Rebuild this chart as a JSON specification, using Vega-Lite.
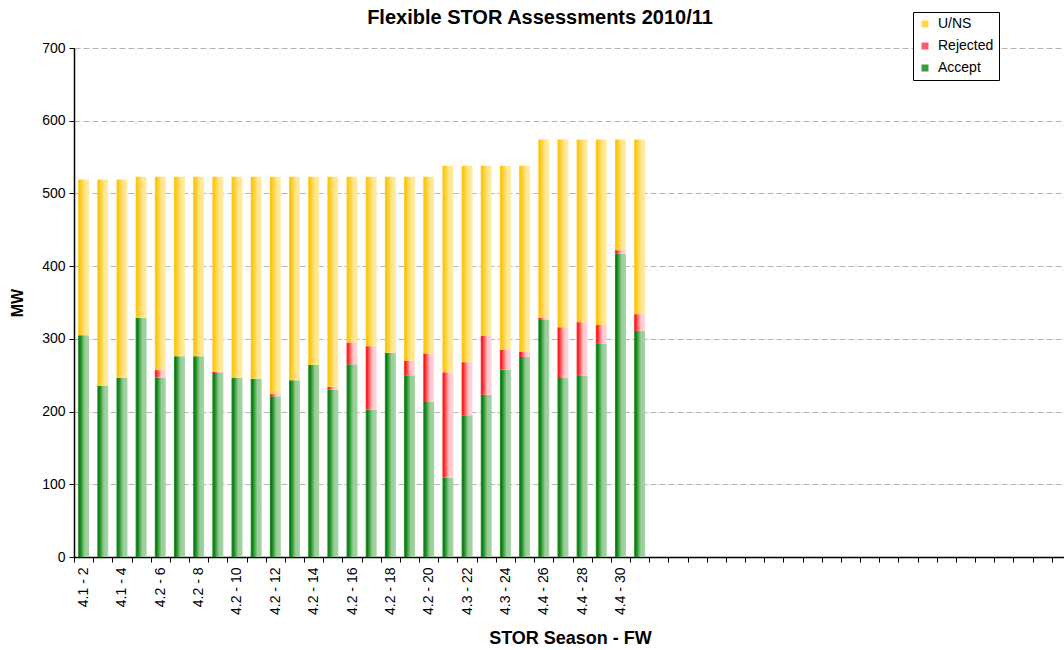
{
  "$schema": "https://vega.github.io/schema/vega-lite/v6.json",
  "width": 990,
  "height": 509,
  "autosize": {"type": "none"},
  "padding": {"left": 74, "top": 48, "right": 0, "bottom": 93},
  "background": "white",
  "title": {"text": "Flexible STOR Assessments 2010/11", "font": "Liberation Sans", "fontSize": 20, "fontWeight": "bold", "color": "black", "anchor": "middle", "dx": -29, "baseline": "bottom", "offset": 22, "dy": 58},
  "config": {"view": {"stroke": null}, "font": "Liberation Sans"},
  "data": {"values": [
    {"fw": 2, "label": "4.1 - 2", "series": "Accept", "mw": 305}, {"fw": 2, "label": "4.1 - 2", "series": "Rejected", "mw": 0}, {"fw": 2, "label": "4.1 - 2", "series": "U/NS", "mw": 214},
    {"fw": 3, "label": "4.1 - 3", "series": "Accept", "mw": 235}, {"fw": 3, "label": "4.1 - 3", "series": "Rejected", "mw": 0}, {"fw": 3, "label": "4.1 - 3", "series": "U/NS", "mw": 284},
    {"fw": 4, "label": "4.1 - 4", "series": "Accept", "mw": 246}, {"fw": 4, "label": "4.1 - 4", "series": "Rejected", "mw": 0}, {"fw": 4, "label": "4.1 - 4", "series": "U/NS", "mw": 273},
    {"fw": 5, "label": "4.2 - 5", "series": "Accept", "mw": 329}, {"fw": 5, "label": "4.2 - 5", "series": "Rejected", "mw": 0}, {"fw": 5, "label": "4.2 - 5", "series": "U/NS", "mw": 194},
    {"fw": 6, "label": "4.2 - 6", "series": "Accept", "mw": 247}, {"fw": 6, "label": "4.2 - 6", "series": "Rejected", "mw": 10}, {"fw": 6, "label": "4.2 - 6", "series": "U/NS", "mw": 266},
    {"fw": 7, "label": "4.2 - 7", "series": "Accept", "mw": 276}, {"fw": 7, "label": "4.2 - 7", "series": "Rejected", "mw": 0}, {"fw": 7, "label": "4.2 - 7", "series": "U/NS", "mw": 247},
    {"fw": 8, "label": "4.2 - 8", "series": "Accept", "mw": 276}, {"fw": 8, "label": "4.2 - 8", "series": "Rejected", "mw": 0}, {"fw": 8, "label": "4.2 - 8", "series": "U/NS", "mw": 247},
    {"fw": 9, "label": "4.2 - 9", "series": "Accept", "mw": 253}, {"fw": 9, "label": "4.2 - 9", "series": "Rejected", "mw": 2}, {"fw": 9, "label": "4.2 - 9", "series": "U/NS", "mw": 268},
    {"fw": 10, "label": "4.2 - 10", "series": "Accept", "mw": 246}, {"fw": 10, "label": "4.2 - 10", "series": "Rejected", "mw": 0}, {"fw": 10, "label": "4.2 - 10", "series": "U/NS", "mw": 277},
    {"fw": 11, "label": "4.2 - 11", "series": "Accept", "mw": 245}, {"fw": 11, "label": "4.2 - 11", "series": "Rejected", "mw": 0}, {"fw": 11, "label": "4.2 - 11", "series": "U/NS", "mw": 278},
    {"fw": 12, "label": "4.2 - 12", "series": "Accept", "mw": 221}, {"fw": 12, "label": "4.2 - 12", "series": "Rejected", "mw": 3}, {"fw": 12, "label": "4.2 - 12", "series": "U/NS", "mw": 299},
    {"fw": 13, "label": "4.2 - 13", "series": "Accept", "mw": 243}, {"fw": 13, "label": "4.2 - 13", "series": "Rejected", "mw": 0}, {"fw": 13, "label": "4.2 - 13", "series": "U/NS", "mw": 280},
    {"fw": 14, "label": "4.2 - 14", "series": "Accept", "mw": 264}, {"fw": 14, "label": "4.2 - 14", "series": "Rejected", "mw": 0}, {"fw": 14, "label": "4.2 - 14", "series": "U/NS", "mw": 259},
    {"fw": 15, "label": "4.2 - 15", "series": "Accept", "mw": 230}, {"fw": 15, "label": "4.2 - 15", "series": "Rejected", "mw": 4}, {"fw": 15, "label": "4.2 - 15", "series": "U/NS", "mw": 289},
    {"fw": 16, "label": "4.2 - 16", "series": "Accept", "mw": 265}, {"fw": 16, "label": "4.2 - 16", "series": "Rejected", "mw": 30}, {"fw": 16, "label": "4.2 - 16", "series": "U/NS", "mw": 228},
    {"fw": 17, "label": "4.2 - 17", "series": "Accept", "mw": 203}, {"fw": 17, "label": "4.2 - 17", "series": "Rejected", "mw": 87}, {"fw": 17, "label": "4.2 - 17", "series": "U/NS", "mw": 233},
    {"fw": 18, "label": "4.2 - 18", "series": "Accept", "mw": 281}, {"fw": 18, "label": "4.2 - 18", "series": "Rejected", "mw": 0}, {"fw": 18, "label": "4.2 - 18", "series": "U/NS", "mw": 242},
    {"fw": 19, "label": "4.2 - 19", "series": "Accept", "mw": 250}, {"fw": 19, "label": "4.2 - 19", "series": "Rejected", "mw": 20}, {"fw": 19, "label": "4.2 - 19", "series": "U/NS", "mw": 253},
    {"fw": 20, "label": "4.2 - 20", "series": "Accept", "mw": 213}, {"fw": 20, "label": "4.2 - 20", "series": "Rejected", "mw": 67}, {"fw": 20, "label": "4.2 - 20", "series": "U/NS", "mw": 243},
    {"fw": 21, "label": "4.3 - 21", "series": "Accept", "mw": 109}, {"fw": 21, "label": "4.3 - 21", "series": "Rejected", "mw": 145}, {"fw": 21, "label": "4.3 - 21", "series": "U/NS", "mw": 284},
    {"fw": 22, "label": "4.3 - 22", "series": "Accept", "mw": 195}, {"fw": 22, "label": "4.3 - 22", "series": "Rejected", "mw": 73}, {"fw": 22, "label": "4.3 - 22", "series": "U/NS", "mw": 270},
    {"fw": 23, "label": "4.3 - 23", "series": "Accept", "mw": 223}, {"fw": 23, "label": "4.3 - 23", "series": "Rejected", "mw": 81}, {"fw": 23, "label": "4.3 - 23", "series": "U/NS", "mw": 234},
    {"fw": 24, "label": "4.3 - 24", "series": "Accept", "mw": 258}, {"fw": 24, "label": "4.3 - 24", "series": "Rejected", "mw": 27}, {"fw": 24, "label": "4.3 - 24", "series": "U/NS", "mw": 253},
    {"fw": 25, "label": "4.3 - 25", "series": "Accept", "mw": 275}, {"fw": 25, "label": "4.3 - 25", "series": "Rejected", "mw": 7}, {"fw": 25, "label": "4.3 - 25", "series": "U/NS", "mw": 256},
    {"fw": 26, "label": "4.4 - 26", "series": "Accept", "mw": 326}, {"fw": 26, "label": "4.4 - 26", "series": "Rejected", "mw": 3}, {"fw": 26, "label": "4.4 - 26", "series": "U/NS", "mw": 245},
    {"fw": 27, "label": "4.4 - 27", "series": "Accept", "mw": 246}, {"fw": 27, "label": "4.4 - 27", "series": "Rejected", "mw": 70}, {"fw": 27, "label": "4.4 - 27", "series": "U/NS", "mw": 258},
    {"fw": 28, "label": "4.4 - 28", "series": "Accept", "mw": 249}, {"fw": 28, "label": "4.4 - 28", "series": "Rejected", "mw": 74}, {"fw": 28, "label": "4.4 - 28", "series": "U/NS", "mw": 251},
    {"fw": 29, "label": "4.4 - 29", "series": "Accept", "mw": 293}, {"fw": 29, "label": "4.4 - 29", "series": "Rejected", "mw": 26}, {"fw": 29, "label": "4.4 - 29", "series": "U/NS", "mw": 255},
    {"fw": 30, "label": "4.4 - 30", "series": "Accept", "mw": 417}, {"fw": 30, "label": "4.4 - 30", "series": "Rejected", "mw": 5}, {"fw": 30, "label": "4.4 - 30", "series": "U/NS", "mw": 152},
    {"fw": 31, "label": "4.4 - 31", "series": "Accept", "mw": 311}, {"fw": 31, "label": "4.4 - 31", "series": "Rejected", "mw": 23}, {"fw": 31, "label": "4.4 - 31", "series": "U/NS", "mw": 240}
  ]},
  "transform": [
    {"stack": "mw", "groupby": ["label"], "sort": [{"field": "series", "order": "ascending"}], "as": ["y0", "y1"]}
  ],
  "encoding": {
    "x": {
      "field": "label", "type": "nominal",
      "scale": {
        "domain": ["4.1 - 2","4.1 - 3","4.1 - 4","4.2 - 5","4.2 - 6","4.2 - 7","4.2 - 8","4.2 - 9","4.2 - 10","4.2 - 11","4.2 - 12","4.2 - 13","4.2 - 14","4.2 - 15","4.2 - 16","4.2 - 17","4.2 - 18","4.2 - 19","4.2 - 20","4.3 - 21","4.3 - 22","4.3 - 23","4.3 - 24","4.3 - 25","4.4 - 26","4.4 - 27","4.4 - 28","4.4 - 29","4.4 - 30","4.4 - 31","w32","w33","w34","w35","w36","w37","w38","w39","w40","w41","w42","w43","w44","w45","w46","w47","w48","w49","w50","w51","w52","w53"],
        "range": [0, 997],
        "paddingInner": 0, "paddingOuter": 0
      },
      "axis": {
        "title": "STOR Season - FW", "titleFont": "Liberation Sans", "titleFontSize": 18, "titleFontWeight": "bold", "titleColor": "black", "titlePadding": 15, "titleX": 496,
        "labelAngle": -90, "labelFont": "Liberation Sans", "labelFontSize": 14, "labelColor": "black", "labelPadding": 5,
        "labelExpr": "test(/ - [0-9]*[02468]$/, datum.value) ? datum.value : ''",
        "labelOverlap": false,
        "tickBand": "extent", "tickSize": 5, "tickColor": "black", "domainColor": "black", "domainWidth": 1.5, "grid": false
      }
    },
    "y": {
      "field": "y1", "type": "quantitative",
      "scale": {"domain": [0, 700], "nice": false},
      "axis": {
        "title": "MW", "titleFont": "Liberation Sans", "titleFontSize": 16, "titleFontWeight": "bold", "titleColor": "black", "titlePadding": 16,
        "values": [0, 100, 200, 300, 400, 500, 600, 700],
        "labelFont": "Liberation Sans", "labelFontSize": 14, "labelColor": "black", "labelPadding": 4,
        "tickSize": 5, "tickColor": "black", "domainColor": "black", "domainWidth": 1.5,
        "grid": true, "gridColor": "#b4b4b4", "gridDash": [6, 3], "gridWidth": 1
      }
    },
    "y2": {"field": "y0"}
  },
  "layer": [
    {
      "mark": {"type": "bar", "width": 11, "strokeWidth": 0, "opacity": 0},
      "encoding": {
        "color": {
          "field": "series", "type": "nominal",
          "scale": {"domain": ["U/NS", "Rejected", "Accept"], "range": ["#ffd84a", "#ff5a6a", "#3f9b3f"]},
          "legend": {
            "title": null, "orient": "none", "legendX": 839, "legendY": -36,
            "symbolType": "square", "symbolSize": 49, "symbolStrokeWidth": 0, "symbolOpacity": 1,
            "labelFont": "Liberation Sans", "labelFontSize": 14, "labelColor": "black", "labelOffset": 6,
            "rowPadding": 8, "padding": 5, "strokeColor": "black", "fillColor": "white", "cornerRadius": 0
          }
        }
      }
    },
    {
      "transform": [{"filter": "datum.series === 'Accept'"}],
      "mark": {"type": "bar", "width": 11, "strokeWidth": 0,
        "fill": {"gradient": "linear", "x1": 0, "y1": 0, "x2": 1, "y2": 0, "stops": [{"offset": 0, "color": "#3c963c"}, {"offset": 0.15, "color": "#007f08"}, {"offset": 0.6, "color": "#98cc98"}, {"offset": 1, "color": "#a4d4a4"}]}}
    },
    {
      "transform": [{"filter": "datum.series === 'Rejected'"}],
      "mark": {"type": "bar", "width": 11, "strokeWidth": 0,
        "fill": {"gradient": "linear", "x1": 0, "y1": 0, "x2": 1, "y2": 0, "stops": [{"offset": 0, "color": "#ff4040"}, {"offset": 0.12, "color": "#ff1414"}, {"offset": 0.6, "color": "#ffc4cc"}, {"offset": 1, "color": "#ffd8dd"}]}}
    },
    {
      "transform": [{"filter": "datum.series === 'U/NS'"}],
      "mark": {"type": "bar", "width": 11, "strokeWidth": 0,
        "fill": {"gradient": "linear", "x1": 0, "y1": 0, "x2": 1, "y2": 0, "stops": [{"offset": 0, "color": "#ffd040"}, {"offset": 0.12, "color": "#ffc400"}, {"offset": 0.6, "color": "#ffe48a"}, {"offset": 1, "color": "#ffeca8"}]}}
    }
  ]
}
